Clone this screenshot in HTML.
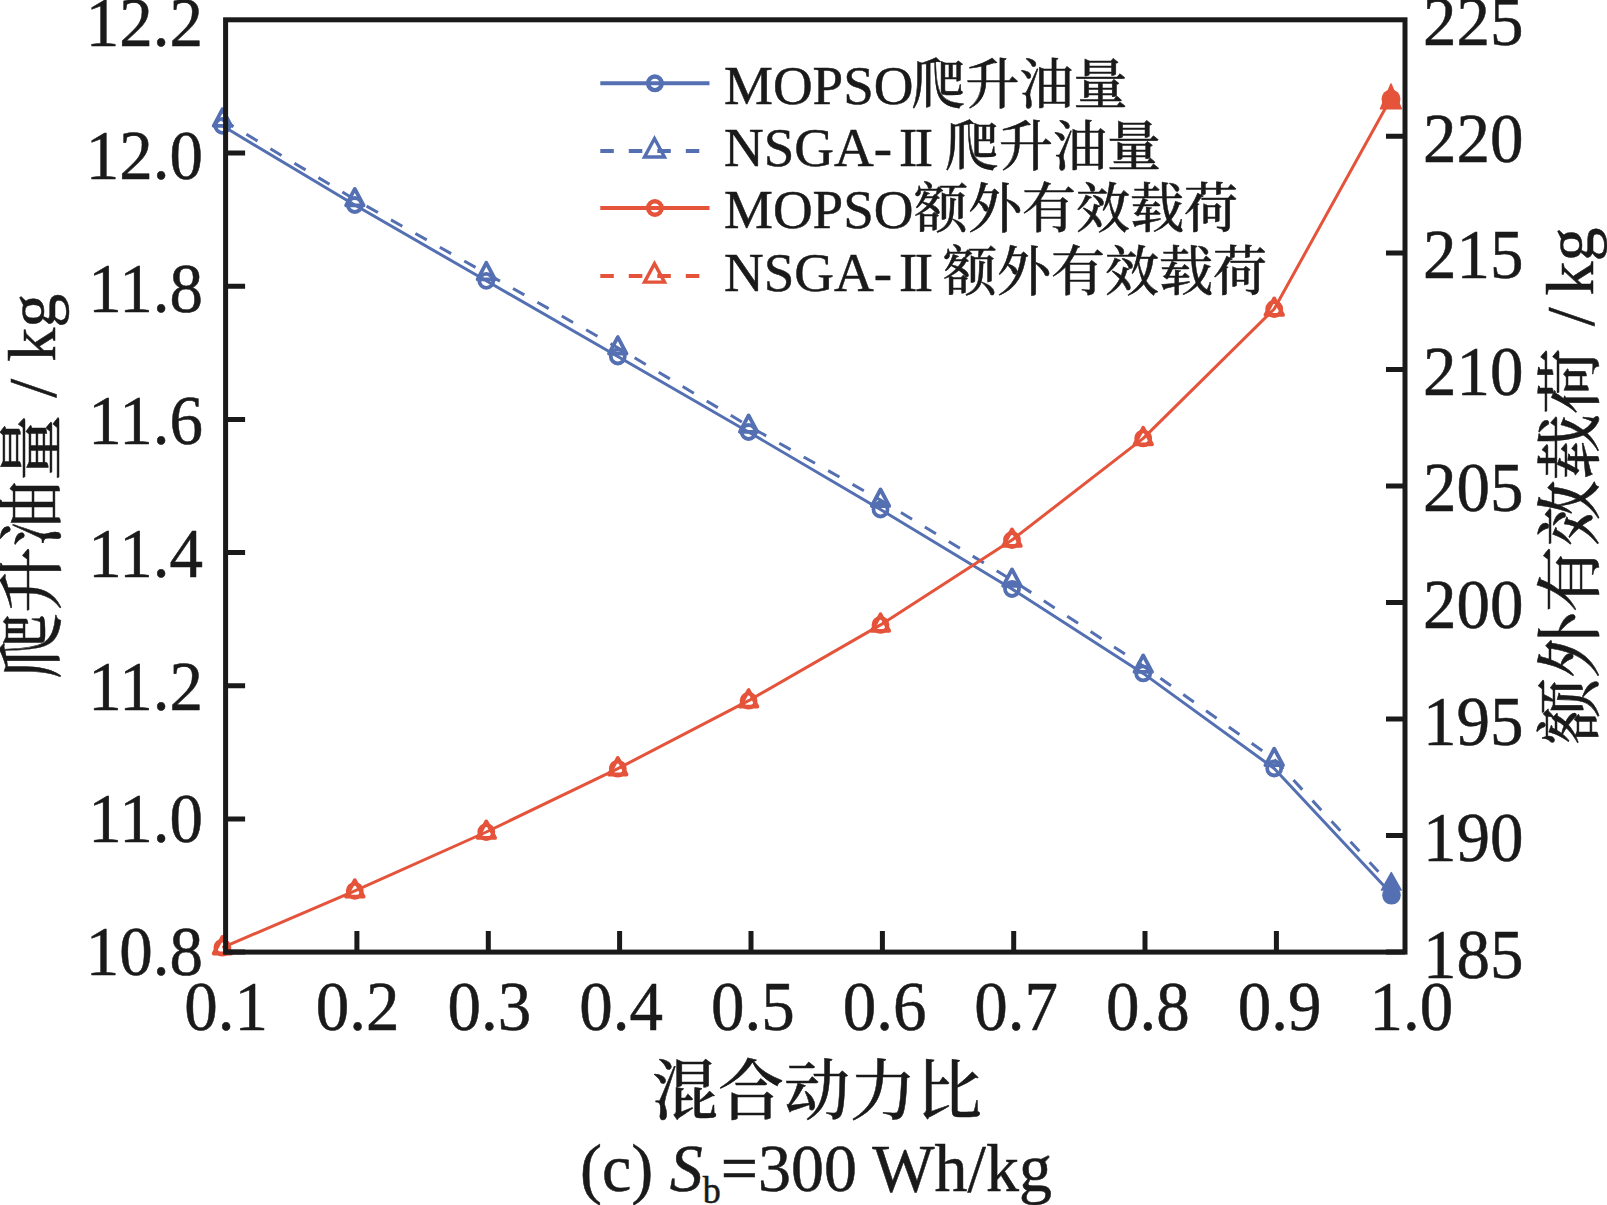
<!DOCTYPE html><html><head><meta charset="utf-8"><style>html,body{margin:0;padding:0;background:#fff;}svg{display:block;}</style></head><body>
<svg width="1607" height="1205" viewBox="0 0 1607 1205">
<style>text{stroke:#1a1a1a;stroke-width:0.5px;}</style>
<rect width="1607" height="1205" fill="#fff"/>
<g fill="none" stroke-linejoin="round">
<polyline points="222.4,119.9 354.8,199.5 486.3,273.4 617.8,347.7 748.6,426.0 880.5,500.1 1012.0,580.0 1143.2,666.0 1274.2,759.3 1391.6,886.0" stroke="#5470b2" stroke-width="3.0" stroke-dasharray="13 15"/>
<polyline points="222.4,125.8 354.8,205.0 486.3,280.8 617.8,356.5 748.6,432.0 880.5,509.5 1012.0,589.0 1143.2,673.4 1274.2,768.5 1391.6,894.0" stroke="#5470b2" stroke-width="3.0"/>
<polyline points="222.4,947.6 354.8,890.8 486.3,832.0 617.8,768.6 748.6,700.7 880.5,624.9 1012.0,540.0 1143.2,438.4 1274.2,309.0 1391.6,97.0" stroke="#e4533a" stroke-width="3.0"/>
<circle cx="222.4" cy="125.8" r="7.0" stroke="#5470b2" stroke-width="3.8"/>
<circle cx="354.8" cy="205.0" r="7.0" stroke="#5470b2" stroke-width="3.8"/>
<circle cx="486.3" cy="280.8" r="7.0" stroke="#5470b2" stroke-width="3.8"/>
<circle cx="617.8" cy="356.5" r="7.0" stroke="#5470b2" stroke-width="3.8"/>
<circle cx="748.6" cy="432.0" r="7.0" stroke="#5470b2" stroke-width="3.8"/>
<circle cx="880.5" cy="509.5" r="7.0" stroke="#5470b2" stroke-width="3.8"/>
<circle cx="1012.0" cy="589.0" r="7.0" stroke="#5470b2" stroke-width="3.8"/>
<circle cx="1143.2" cy="673.4" r="7.0" stroke="#5470b2" stroke-width="3.8"/>
<circle cx="1274.2" cy="768.5" r="7.0" stroke="#5470b2" stroke-width="3.8"/>
<polygon points="222.4,109.3 213.7,125.8 231.2,125.8" stroke="#5470b2" stroke-width="3.8"/>
<polygon points="354.8,188.9 346.1,205.4 363.6,205.4" stroke="#5470b2" stroke-width="3.8"/>
<polygon points="486.3,262.8 477.6,279.3 495.1,279.3" stroke="#5470b2" stroke-width="3.8"/>
<polygon points="617.8,337.1 609.0,353.6 626.5,353.6" stroke="#5470b2" stroke-width="3.8"/>
<polygon points="748.6,415.4 739.9,431.9 757.4,431.9" stroke="#5470b2" stroke-width="3.8"/>
<polygon points="880.5,489.5 871.8,506.0 889.2,506.0" stroke="#5470b2" stroke-width="3.8"/>
<polygon points="1012.0,569.4 1003.2,585.9 1020.8,585.9" stroke="#5470b2" stroke-width="3.8"/>
<polygon points="1143.2,655.4 1134.5,671.9 1152.0,671.9" stroke="#5470b2" stroke-width="3.8"/>
<polygon points="1274.2,748.7 1265.5,765.2 1283.0,765.2" stroke="#5470b2" stroke-width="3.8"/>
<circle cx="222.4" cy="947.6" r="7.0" stroke="#e4533a" stroke-width="3.8"/>
<polygon points="222.4,937.0 213.7,953.5 231.2,953.5" stroke="#e4533a" stroke-width="3.8"/>
<circle cx="354.8" cy="890.8" r="7.0" stroke="#e4533a" stroke-width="3.8"/>
<polygon points="354.8,880.2 346.1,896.7 363.6,896.7" stroke="#e4533a" stroke-width="3.8"/>
<circle cx="486.3" cy="832.0" r="7.0" stroke="#e4533a" stroke-width="3.8"/>
<polygon points="486.3,821.4 477.6,837.9 495.1,837.9" stroke="#e4533a" stroke-width="3.8"/>
<circle cx="617.8" cy="768.6" r="7.0" stroke="#e4533a" stroke-width="3.8"/>
<polygon points="617.8,758.0 609.0,774.5 626.5,774.5" stroke="#e4533a" stroke-width="3.8"/>
<circle cx="748.6" cy="700.7" r="7.0" stroke="#e4533a" stroke-width="3.8"/>
<polygon points="748.6,690.1 739.9,706.6 757.4,706.6" stroke="#e4533a" stroke-width="3.8"/>
<circle cx="880.5" cy="624.9" r="7.0" stroke="#e4533a" stroke-width="3.8"/>
<polygon points="880.5,614.3 871.8,630.8 889.2,630.8" stroke="#e4533a" stroke-width="3.8"/>
<circle cx="1012.0" cy="540.0" r="7.0" stroke="#e4533a" stroke-width="3.8"/>
<polygon points="1012.0,529.4 1003.2,545.9 1020.8,545.9" stroke="#e4533a" stroke-width="3.8"/>
<circle cx="1143.2" cy="438.4" r="7.0" stroke="#e4533a" stroke-width="3.8"/>
<polygon points="1143.2,427.8 1134.5,444.3 1152.0,444.3" stroke="#e4533a" stroke-width="3.8"/>
<circle cx="1274.2" cy="309.0" r="7.0" stroke="#e4533a" stroke-width="3.8"/>
<polygon points="1274.2,298.4 1265.5,314.9 1283.0,314.9" stroke="#e4533a" stroke-width="3.8"/>
<circle cx="1391.5" cy="895.3" r="9.3" fill="#5470b2" stroke="none"/>
<polygon points="1391.3,872.6 1381.5,890 1401.2,890" fill="#5470b2" stroke="#5470b2" stroke-width="1.5"/>
<circle cx="1391" cy="99" r="9.5" fill="#e4533a" stroke="none"/>
<polygon points="1391,84 1380.5,108.8 1401.3,108.8" fill="#e4533a" stroke="#e4533a" stroke-width="1.5"/>
</g>
<rect x="225.6" y="19.8" width="1179.4" height="932.3000000000001" fill="none" stroke="#1a1a1a" stroke-width="5.0"/>
<path d="M225.6,153.0H245.1 M225.6,286.2H245.1 M225.6,419.4H245.1 M225.6,552.6H245.1 M225.6,685.8H245.1 M225.6,818.9H245.1 M225.6,952.1H245.1 M1405.0,136.3H1386.0 M1405.0,252.9H1386.0 M1405.0,369.4H1386.0 M1405.0,486.0H1386.0 M1405.0,602.5H1386.0 M1405.0,719.0H1386.0 M1405.0,835.6H1386.0 M1405.0,952.1H1386.0 M356.9,952.1V931.1 M488.3,952.1V931.1 M619.6,952.1V931.1 M751.0,952.1V931.1 M882.4,952.1V931.1 M1013.7,952.1V931.1 M1145.0,952.1V931.1 M1276.4,952.1V931.1" stroke="#1a1a1a" stroke-width="5" fill="none"/>
<text transform="translate(203.0,46.3) scale(1,1.055)" font-family="'Liberation Serif', 'Times New Roman', serif" font-size="67" text-anchor="end" fill="#1a1a1a">12.2</text>
<text transform="translate(203.0,179.0) scale(1,1.055)" font-family="'Liberation Serif', 'Times New Roman', serif" font-size="67" text-anchor="end" fill="#1a1a1a">12.0</text>
<text transform="translate(203.0,311.6) scale(1,1.055)" font-family="'Liberation Serif', 'Times New Roman', serif" font-size="67" text-anchor="end" fill="#1a1a1a">11.8</text>
<text transform="translate(203.0,444.3) scale(1,1.055)" font-family="'Liberation Serif', 'Times New Roman', serif" font-size="67" text-anchor="end" fill="#1a1a1a">11.6</text>
<text transform="translate(203.0,577.0) scale(1,1.055)" font-family="'Liberation Serif', 'Times New Roman', serif" font-size="67" text-anchor="end" fill="#1a1a1a">11.4</text>
<text transform="translate(203.0,709.6) scale(1,1.055)" font-family="'Liberation Serif', 'Times New Roman', serif" font-size="67" text-anchor="end" fill="#1a1a1a">11.2</text>
<text transform="translate(203.0,842.3) scale(1,1.055)" font-family="'Liberation Serif', 'Times New Roman', serif" font-size="67" text-anchor="end" fill="#1a1a1a">11.0</text>
<text transform="translate(203.0,975.0) scale(1,1.055)" font-family="'Liberation Serif', 'Times New Roman', serif" font-size="67" text-anchor="end" fill="#1a1a1a">10.8</text>
<text transform="translate(1423.0,45.2) scale(1,1.055)" font-family="'Liberation Serif', 'Times New Roman', serif" font-size="67" text-anchor="start" fill="#1a1a1a">225</text>
<text transform="translate(1423.0,161.8) scale(1,1.055)" font-family="'Liberation Serif', 'Times New Roman', serif" font-size="67" text-anchor="start" fill="#1a1a1a">220</text>
<text transform="translate(1423.0,278.3) scale(1,1.055)" font-family="'Liberation Serif', 'Times New Roman', serif" font-size="67" text-anchor="start" fill="#1a1a1a">215</text>
<text transform="translate(1423.0,394.9) scale(1,1.055)" font-family="'Liberation Serif', 'Times New Roman', serif" font-size="67" text-anchor="start" fill="#1a1a1a">210</text>
<text transform="translate(1423.0,511.4) scale(1,1.055)" font-family="'Liberation Serif', 'Times New Roman', serif" font-size="67" text-anchor="start" fill="#1a1a1a">205</text>
<text transform="translate(1423.0,628.0) scale(1,1.055)" font-family="'Liberation Serif', 'Times New Roman', serif" font-size="67" text-anchor="start" fill="#1a1a1a">200</text>
<text transform="translate(1423.0,744.6) scale(1,1.055)" font-family="'Liberation Serif', 'Times New Roman', serif" font-size="67" text-anchor="start" fill="#1a1a1a">195</text>
<text transform="translate(1423.0,861.1) scale(1,1.055)" font-family="'Liberation Serif', 'Times New Roman', serif" font-size="67" text-anchor="start" fill="#1a1a1a">190</text>
<text transform="translate(1423.0,977.7) scale(1,1.055)" font-family="'Liberation Serif', 'Times New Roman', serif" font-size="67" text-anchor="start" fill="#1a1a1a">185</text>
<text transform="translate(226.0,1030.3) scale(1,1.055)" font-family="'Liberation Serif', 'Times New Roman', serif" font-size="67" text-anchor="middle" fill="#1a1a1a">0.1</text>
<text transform="translate(357.7,1030.3) scale(1,1.055)" font-family="'Liberation Serif', 'Times New Roman', serif" font-size="67" text-anchor="middle" fill="#1a1a1a">0.2</text>
<text transform="translate(489.4,1030.3) scale(1,1.055)" font-family="'Liberation Serif', 'Times New Roman', serif" font-size="67" text-anchor="middle" fill="#1a1a1a">0.3</text>
<text transform="translate(621.1,1030.3) scale(1,1.055)" font-family="'Liberation Serif', 'Times New Roman', serif" font-size="67" text-anchor="middle" fill="#1a1a1a">0.4</text>
<text transform="translate(752.8,1030.3) scale(1,1.055)" font-family="'Liberation Serif', 'Times New Roman', serif" font-size="67" text-anchor="middle" fill="#1a1a1a">0.5</text>
<text transform="translate(884.5,1030.3) scale(1,1.055)" font-family="'Liberation Serif', 'Times New Roman', serif" font-size="67" text-anchor="middle" fill="#1a1a1a">0.6</text>
<text transform="translate(1016.2,1030.3) scale(1,1.055)" font-family="'Liberation Serif', 'Times New Roman', serif" font-size="67" text-anchor="middle" fill="#1a1a1a">0.7</text>
<text transform="translate(1147.9,1030.3) scale(1,1.055)" font-family="'Liberation Serif', 'Times New Roman', serif" font-size="67" text-anchor="middle" fill="#1a1a1a">0.8</text>
<text transform="translate(1279.6,1030.3) scale(1,1.055)" font-family="'Liberation Serif', 'Times New Roman', serif" font-size="67" text-anchor="middle" fill="#1a1a1a">0.9</text>
<text transform="translate(1411.3,1030.3) scale(1,1.055)" font-family="'Liberation Serif', 'Times New Roman', serif" font-size="67" text-anchor="middle" fill="#1a1a1a">1.0</text>
<text transform="translate(54.8,486.3) rotate(-90)" font-family="'Liberation Serif', 'Times New Roman', serif" font-size="68" text-anchor="middle" fill="#1a1a1a"><tspan font-family="'Liberation Serif', 'Noto Serif CJK SC', 'Noto Sans CJK SC', serif" font-weight="500" font-size="66">爬升油量</tspan> / kg</text>
<text transform="translate(1592.5,485.9) rotate(-90)" font-family="'Liberation Serif', 'Times New Roman', serif" font-size="68" text-anchor="middle" fill="#1a1a1a"><tspan font-family="'Liberation Serif', 'Noto Serif CJK SC', 'Noto Sans CJK SC', serif" font-weight="500" font-size="66">额外有效载荷</tspan> <tspan dx="5">/</tspan><tspan dx="-5"> kg</tspan></text>
<text x="817" y="1114" text-anchor="middle" fill="#1a1a1a"><tspan font-family="'Liberation Serif', 'Noto Serif CJK SC', 'Noto Sans CJK SC', serif" font-weight="500" font-size="66">混合动力比</tspan></text>
<text transform="translate(816,1190.5) scale(1,1.035)" font-family="'Liberation Serif', 'Times New Roman', serif" font-size="66" text-anchor="middle" fill="#1a1a1a">(c) <tspan font-style="italic">S</tspan><tspan font-size="36" dy="12">b</tspan><tspan dy="-12">=300 Wh/kg</tspan></text>
<line x1="600.3" y1="83.3" x2="709.5" y2="83.3" stroke="#5470b2" stroke-width="4"/>
<circle cx="654.9" cy="83.3" r="6.8" fill="none" stroke="#5470b2" stroke-width="4.4"/>
<text x="724" y="104.0" font-family="'Liberation Serif', 'Times New Roman', serif" font-size="55" fill="#1a1a1a">MOPSO</text>
<text x="911.5" y="104.0" font-family="'Liberation Serif', 'Noto Serif CJK SC', 'Noto Sans CJK SC', serif" font-weight="500" font-size="54" fill="#1a1a1a">爬升油量</text>
<line x1="600.3" y1="151.0" x2="709.5" y2="151.0" stroke="#5470b2" stroke-width="4" stroke-dasharray="13.5 15"/>
<polygon points="654.5,138.5 644.5,157.0 664.5,157.0" fill="none" stroke="#5470b2" stroke-width="3.4"/>
<text x="724" y="166.3" font-family="'Liberation Serif', 'Times New Roman', serif" font-size="55" fill="#1a1a1a">NSGA-</text>
<text x="899" y="166.3" font-family="'Liberation Serif', 'Times New Roman', serif" font-size="55" letter-spacing="-2.5" fill="#1a1a1a">II</text>
<text x="945" y="166.3" font-family="'Liberation Serif', 'Noto Serif CJK SC', 'Noto Sans CJK SC', serif" font-weight="500" font-size="54" fill="#1a1a1a">爬升油量</text>
<line x1="600.3" y1="208.0" x2="709.5" y2="208.0" stroke="#e4533a" stroke-width="4"/>
<circle cx="654.9" cy="208.0" r="6.8" fill="none" stroke="#e4533a" stroke-width="4.4"/>
<text x="724" y="227.5" font-family="'Liberation Serif', 'Times New Roman', serif" font-size="55" fill="#1a1a1a">MOPSO</text>
<text x="914" y="227.5" font-family="'Liberation Serif', 'Noto Serif CJK SC', 'Noto Sans CJK SC', serif" font-weight="500" font-size="54" fill="#1a1a1a">额外有效载荷</text>
<line x1="600.3" y1="276.1" x2="709.5" y2="276.1" stroke="#e4533a" stroke-width="4" stroke-dasharray="13.5 15"/>
<polygon points="654.5,263.6 644.5,282.1 664.5,282.1" fill="none" stroke="#e4533a" stroke-width="3.4"/>
<text x="724" y="291.0" font-family="'Liberation Serif', 'Times New Roman', serif" font-size="55" fill="#1a1a1a">NSGA-</text>
<text x="899" y="291.0" font-family="'Liberation Serif', 'Times New Roman', serif" font-size="55" letter-spacing="-2.5" fill="#1a1a1a">II</text>
<text x="943" y="291.0" font-family="'Liberation Serif', 'Noto Serif CJK SC', 'Noto Sans CJK SC', serif" font-weight="500" font-size="54" fill="#1a1a1a">额外有效载荷</text>
</svg></body></html>
